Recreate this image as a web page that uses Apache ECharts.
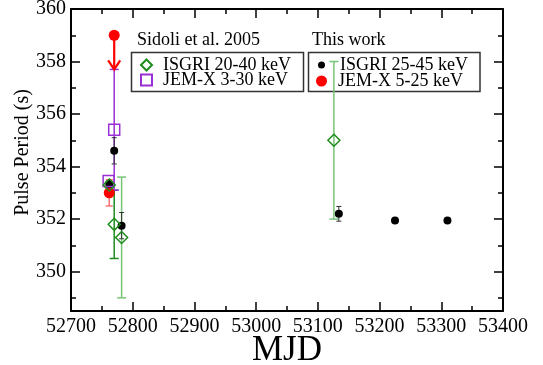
<!DOCTYPE html>
<html>
<head>
<meta charset="utf-8">
<script src="https://cdn.jsdelivr.net/npm/echarts@6/dist/echarts.min.js"></script>
<style>
  html, body { margin: 0; padding: 0; background: #fff; }
  #chart { width: 543px; height: 365px; }
</style>
</head>
<body>
<div id="chart"></div>
<script>
// Sidoli et al. 2005, ISGRI 20-40 keV
const sidoliIsgriMjd = [52762, 52770, 52782, 53126];
const sidoliIsgriP   = [353.3, 351.8, 351.3, 355.0];
const sidoliIsgriErr = [0.1, 1.3, 2.3, 3.0];
// Sidoli et al. 2005, JEM-X 3-30 keV
const sidoliJemxMjd = [52761, 52770];
const sidoliJemxP   = [353.45, 355.4];
const sidoliJemxErr = [0, 2.3];
// This work, ISGRI 25-45 keV
const isgriMjd = [52762, 52770, 52782, 53134, 53225, 53310];
const isgriP   = [353.35, 354.6, 351.75, 352.2, 351.95, 351.95];
const isgriErr = [0.1, 0.5, 0.5, 0.28, 0, 0];
// This work, JEM-X 5-25 keV
const jemxMjd = [52762];
const jemxP   = [353.0];
const jemxErr = [0.5];
// JEM-X upper limit (arrow)
const limitMjd = [52770];
const limitP   = [359.0];
const limitTo  = [357.7];

const yTickValues  = [350, 352, 354, 356, 358, 360];
const yMinorValues = [349, 351, 353, 355, 357, 359];

const FONT = 'Liberation Serif';

function pts(xs, ys) { return xs.map((x, i) => [x, ys[i]]); }

function errorBars(xs, ys, errs, colors, cap, width) {
  return {
    type: 'custom',
    name: '_err',
    z: 1,
    silent: true,
    data: xs.map((x, i) => [x, ys[i] - errs[i], ys[i] + errs[i]]),
    encode: { x: 0, y: [1, 2] },
    renderItem: function (params, api) {
      const x = api.value(0);
      const lo = api.coord([x, api.value(1)]);
      const hi = api.coord([x, api.value(2)]);
      if (Math.abs(lo[1] - hi[1]) < 1) return null;
      const c = colors[params.dataIndex % colors.length];
      const st = { stroke: c, lineWidth: width, fill: 'none' };
      const h = cap / 2;
      return {
        type: 'group',
        children: [
          { type: 'line', shape: { x1: lo[0], y1: lo[1], x2: hi[0], y2: hi[1] }, style: st },
          { type: 'line', shape: { x1: lo[0] - h, y1: lo[1], x2: lo[0] + h, y2: lo[1] }, style: st },
          { type: 'line', shape: { x1: hi[0] - h, y1: hi[1], x2: hi[0] + h, y2: hi[1] }, style: st }
        ]
      };
    }
  };
}

const chart = echarts.init(document.getElementById('chart'));

const xBase = {
  type: 'value', min: 52700, max: 53400, interval: 100,
  axisLine: { show: true, lineStyle: { color: '#000', width: 2 } },
  axisTick: { show: true, inside: true, length: 9, lineStyle: { color: '#000', width: 1.5 } },
  minorTick: { show: true, splitNumber: 2, length: 5, lineStyle: { color: '#000', width: 1.5 } },
  splitLine: { show: false }
};
const yBase = {
  type: 'value', min: 348.5, max: 360,
  axisLine: { show: false },
  axisLabel: { show: false },
  splitLine: { show: false }
};
const legendText = { fontFamily: FONT, fontSize: 18, color: '#000', padding: [0, 0, 0, 6] };

chart.setOption({
  animation: false,
  backgroundColor: '#fff',
  grid: { left: 71, right: 40, top: 9, bottom: 54, containLabel: false, outerBoundsMode: 'none' },
  xAxis: [
    Object.assign({}, xBase, {
      position: 'bottom',
      name: 'MJD', nameLocation: 'middle', nameGap: 22, nameMoveOverlap: false,
      nameTextStyle: { fontFamily: FONT, fontSize: 35, color: '#000' },
      axisLabel: { margin: 6, fontFamily: FONT, fontSize: 20, color: '#000', formatter: v => String(v) }
    }),
    Object.assign({}, xBase, { position: 'top', axisLabel: { show: false } })
  ],
  yAxis: [
    Object.assign({}, yBase, {
      position: 'left',
      axisLine: { show: true, lineStyle: { color: '#000', width: 2 } },
      axisLabel: { show: true, customValues: yTickValues, margin: 5, fontFamily: FONT, fontSize: 20, color: '#000' },
      axisTick: { show: true, customValues: yTickValues, inside: true, length: 9, lineStyle: { color: '#000', width: 1.5 } },
      name: 'Pulse Period (s)', nameLocation: 'middle', nameGap: 38, nameMoveOverlap: false,
      nameTextStyle: { fontFamily: FONT, fontSize: 20, color: '#000', padding: [0, 0, 0, 15] }
    }),
    Object.assign({}, yBase, {
      position: 'left',
      axisTick: { show: true, customValues: yMinorValues, inside: true, length: 5, lineStyle: { color: '#000', width: 1.5 } }
    }),
    Object.assign({}, yBase, {
      position: 'right',
      axisLine: { show: true, lineStyle: { color: '#000', width: 2 } },
      axisTick: { show: true, customValues: yTickValues, inside: true, length: 9, lineStyle: { color: '#000', width: 1.5 } }
    }),
    Object.assign({}, yBase, {
      position: 'right',
      axisTick: { show: true, customValues: yMinorValues, inside: true, length: 5, lineStyle: { color: '#000', width: 1.5 } }
    })
  ],
  legend: [
    { left: 140, top: 56, padding: 0, itemWidth: 11, itemHeight: 11, data: ['ISGRI 20-40 keV'], textStyle: legendText },
    { left: 140, top: 71, padding: 0, itemWidth: 11, itemHeight: 11, data: ['JEM-X 3-30 keV'], textStyle: legendText },
    { left: 318, top: 56, padding: 0, itemWidth: 7, itemHeight: 7, data: ['ISGRI 25-45 keV'],
      textStyle: Object.assign({}, legendText, { padding: [0, 0, 0, 10] }) },
    { left: 316, top: 72, padding: 0, itemWidth: 11, itemHeight: 11, data: ['JEM-X 5-25 keV'], textStyle: legendText }
  ],
  graphic: [
    { type: 'rect', z: 0, shape: { x: 131.5, y: 52.5, width: 172, height: 39 },
      style: { fill: 'none', stroke: '#333', lineWidth: 1.5 } },
    { type: 'rect', z: 0, shape: { x: 308.5, y: 52.5, width: 171.5, height: 39 },
      style: { fill: 'none', stroke: '#333', lineWidth: 1.5 } },
    { type: 'text', left: 137, top: 31,
      style: { text: 'Sidoli et al. 2005', font: '18px ' + FONT, fill: '#000' } },
    { type: 'text', left: 312, top: 31,
      style: { text: 'This work', font: '18px ' + FONT, fill: '#000' } }
  ],
  series: [
    errorBars(sidoliIsgriMjd, sidoliIsgriP, sidoliIsgriErr, ['#1e8c1e', '#1e8c1e', '#77c477', '#77c477'], 9, 1.5),
    errorBars(sidoliJemxMjd, sidoliJemxP, sidoliJemxErr, ['#9a2fd6'], 9, 1.5),
    errorBars(isgriMjd, isgriP, isgriErr, ['#333'], 5, 1),
    errorBars(jemxMjd, jemxP, jemxErr, ['#ff7272'], 7, 1.5),
    {
      type: 'custom', name: '_limit', z: 1, silent: true,
      data: limitMjd.map((x, i) => [x, limitP[i], limitTo[i]]),
      encode: { x: 0, y: [1, 2] },
      renderItem: function (params, api) {
        const a = api.coord([api.value(0), api.value(1)]);
        const b = api.coord([api.value(0), api.value(2)]);
        const st = { stroke: '#ff0000', lineWidth: 2.2, fill: 'none' };
        return {
          type: 'group',
          children: [
            { type: 'line', shape: { x1: a[0], y1: a[1], x2: b[0], y2: b[1] }, style: st },
            { type: 'polyline', shape: { points: [[b[0] - 6, b[1] - 9], [b[0], b[1]], [b[0] + 6, b[1] - 9]] }, style: st }
          ]
        };
      }
    },
    {
      type: 'scatter', name: 'JEM-X 5-25 keV', z: 3,
      symbol: 'circle', symbolSize: 11,
      itemStyle: { color: '#ff0000', opacity: 1 },
      data: pts(jemxMjd.concat(limitMjd), jemxP.concat(limitP))
    },
    {
      type: 'scatter', name: 'ISGRI 25-45 keV', z: 4,
      symbol: 'circle', symbolSize: 8,
      itemStyle: { color: '#000', opacity: 1 },
      data: pts(isgriMjd, isgriP)
    },
    {
      type: 'scatter', name: 'JEM-X 3-30 keV', z: 5,
      symbol: 'rect', symbolSize: 11,
      itemStyle: { color: 'rgba(0,0,0,0)', borderColor: '#9a2fd6', borderWidth: 1.5, opacity: 1 },
      data: pts(sidoliJemxMjd, sidoliJemxP)
    },
    {
      type: 'scatter', name: 'ISGRI 20-40 keV', z: 6,
      symbol: 'diamond', symbolSize: 12,
      itemStyle: { color: 'rgba(0,0,0,0)', borderColor: '#1e8c1e', borderWidth: 1.5, opacity: 1 },
      data: pts(sidoliIsgriMjd, sidoliIsgriP)
    }
  ]
});
</script>
</body>
</html>
